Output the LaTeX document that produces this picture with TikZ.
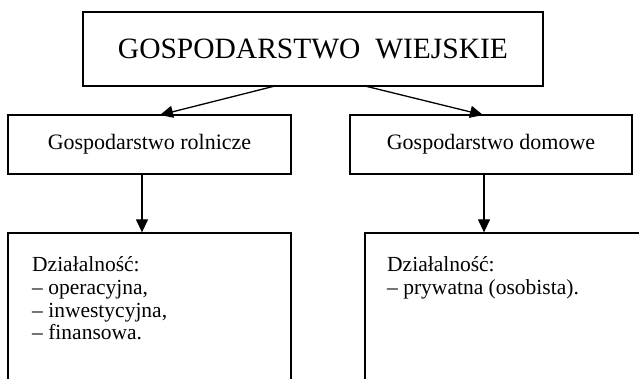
\documentclass[tikz,border=0pt]{standalone}
\usepackage{fontspec}
\setmainfont{Liberation Serif}
\usetikzlibrary{arrows.meta}
\tikzset{
  box/.style={draw, line width=1.3pt, rectangle, inner sep=0pt},
  conn/.style={line width=1.3pt, -{Triangle[length=13pt,width=12pt]}},
  txt/.style={inner sep=0pt, align=left, anchor=north west, font=\fontsize{21.5}{22.7}\selectfont},
}
\begin{document}
\begin{tikzpicture}[x=1pt,y=-1pt]
\useasboundingbox (0,0) rectangle (639,379);
\clip (0,0) rectangle (639,379);
% top box
\node[box, minimum width=460pt, minimum height=74pt, font=\fontsize{29.5}{34}\selectfont] (top) at (313,49)
  {GOSPODARSTWO\ \ WIEJSKIE};
% middle boxes
\node[box, minimum width=283pt, minimum height=59pt, font=\fontsize{22}{26}\selectfont] (rol) at (149.5,144.5)
  {Gospodarstwo rolnicze};
\node[box, minimum width=282pt, minimum height=59pt, font=\fontsize{22}{26}\selectfont] (dom) at (491,144.5)
  {Gospodarstwo domowe};
% bottom boxes (extend below the picture)
\node[box, minimum width=283pt, minimum height=180pt] (dzr) at (149.5,323) {};
\node[box, minimum width=300pt, minimum height=180pt] (dzd) at (515,323) {};
\node[txt] (tr) at (32,256.5) {Działalność:\\– operacyjna,\\– inwestycyjna,\\– finansowa.};
\node[txt] (td) at (387,256.5) {Działalność:\\– prywatna (osobista).};
% connectors
\coordinate (a1) at (275,86);
\coordinate (a2) at (365,86);
\coordinate (b1) at (160,115);
\coordinate (b2) at (483,115);
\draw[conn] (a1) -- (b1);
\draw[conn] (a2) -- (b2);
\draw[conn] (rol.south -| 142,0) -- (dzr.north -| 142,0);
\draw[conn] (dom.south -| 484,0) -- (dzd.north -| 484,0);
\end{tikzpicture}
\end{document}
